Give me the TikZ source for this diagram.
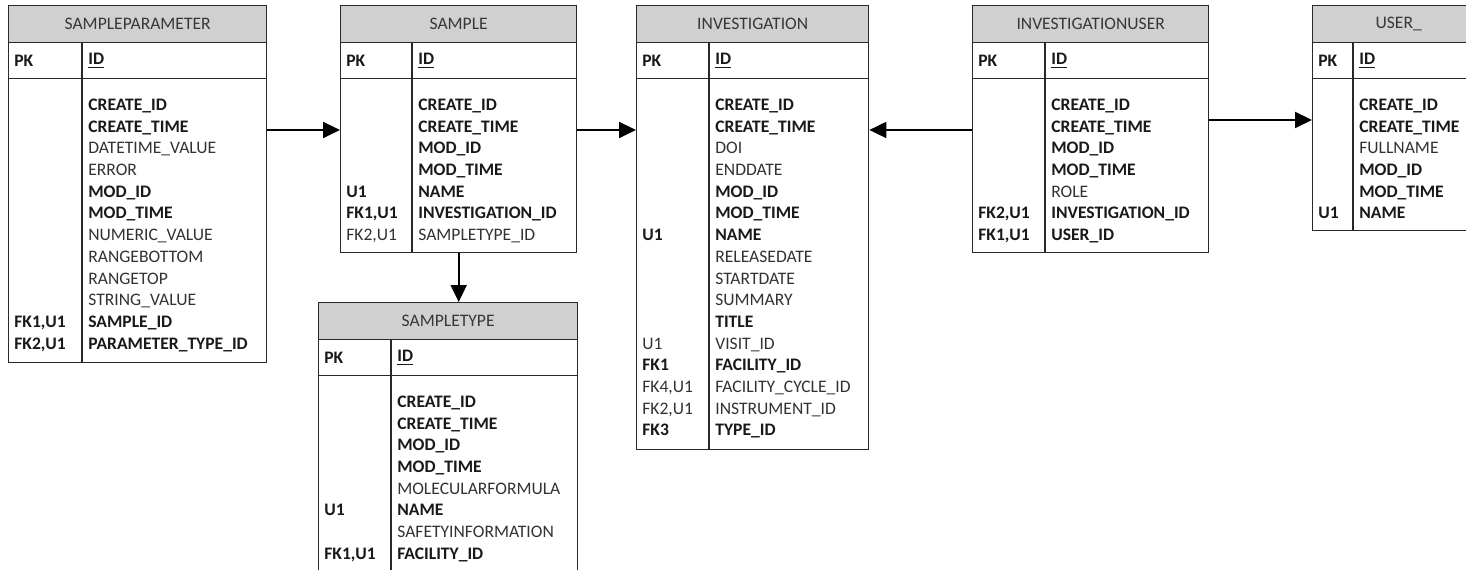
\documentclass[tikz,border=0pt]{standalone}
\usepackage{fontspec}
\setmainfont{Carlito}
\usetikzlibrary{arrows.meta,positioning}
\definecolor{headgray}{RGB}{208,208,208}
\definecolor{fldgray}{RGB}{50,50,50}
\definecolor{txtgray}{RGB}{55,55,55}
\definecolor{linegray}{RGB}{40,40,40}
\newcommand{\tabfont}{\fontsize{10}{12.35}\selectfont}
\newcommand{\bfld}[1]{\textbf{#1}}
\newcommand{\pfld}[1]{\textcolor{fldgray}{#1}}

\begin{document}
\begin{tikzpicture}[
  x=0.02cm, y=-0.02cm,
  tbl/.style={draw=linegray, line width=0.8pt, anchor=north west, inner sep=0pt},
  tblhead/.style={draw=linegray, line width=0.8pt, fill=headgray, anchor=north, minimum height=0.74cm, inner sep=0pt, font=\tabfont, text=txtgray},
  tblline/.style={draw=linegray, line width=0.8pt},
  keytxt/.style={anchor=west, inner sep=0pt, font=\tabfont\bfseries, text=black!90},
  fldlist/.style={anchor=north west, inner sep=0pt, align=left, font=\tabfont, text=black!90},
  fk/.style={line width=1.1pt, -{Triangle[length=0.34cm, width=0.32cm]}}
]
\useasboundingbox (0,0) rectangle (1466,569);
\clip (0,0) rectangle (1466,569);

% SAMPLEPARAMETER
\node[tbl, minimum width=5.16cm, minimum height=7.14cm] (sp) at (8,5) {};
\node[tblhead, minimum width=5.16cm] (sphead) at (sp.north) {SAMPLEPARAMETER};
\coordinate (spdiv) at ([xshift=1.48cm]sphead.south west);
\draw[tblline] ([yshift=-0.7cm]sphead.south west) -- ([yshift=-0.7cm]sphead.south east);
\draw[tblline] (spdiv) -- (spdiv |- sp.south);
\node[keytxt] (sppk) at ([xshift=0.12cm, yshift=-0.35cm]sphead.south west) {PK};
\node[keytxt] (spid) at ([xshift=0.12cm, yshift=-0.35cm]spdiv) {\underline{ID}};
\node[fldlist] (spkeys) at ([xshift=0.12cm, yshift=-1.03cm]sphead.south west)
  {\strut\\ \\ \\ \\ \\ \\ \\ \\ \\ \\\bfld{FK1,U1}\\\bfld{FK2,U1}};
\node[fldlist] (spfields) at ([xshift=0.12cm, yshift=-1.03cm]spdiv)
  {\strut\bfld{CREATE\_ID}\\\bfld{CREATE\_TIME}\\\pfld{DATETIME\_VALUE}\\\pfld{ERROR}\\
   \bfld{MOD\_ID}\\\bfld{MOD\_TIME}\\\pfld{NUMERIC\_VALUE}\\\pfld{RANGEBOTTOM}\\
   \pfld{RANGETOP}\\\pfld{STRING\_VALUE}\\\bfld{SAMPLE\_ID}\\\bfld{PARAMETER\_TYPE\_ID}};

% SAMPLE
\node[tbl, minimum width=4.72cm, minimum height=4.94cm] (sm) at (340,5) {};
\node[tblhead, minimum width=4.72cm] (smhead) at (sm.north) {SAMPLE};
\coordinate (smdiv) at ([xshift=1.44cm]smhead.south west);
\draw[tblline] ([yshift=-0.7cm]smhead.south west) -- ([yshift=-0.7cm]smhead.south east);
\draw[tblline] (smdiv) -- (smdiv |- sm.south);
\node[keytxt] (smpk) at ([xshift=0.12cm, yshift=-0.35cm]smhead.south west) {PK};
\node[keytxt] (smid) at ([xshift=0.12cm, yshift=-0.35cm]smdiv) {\underline{ID}};
\node[fldlist] (smkeys) at ([xshift=0.12cm, yshift=-1.03cm]smhead.south west)
  {\strut\\ \\ \\ \\\bfld{U1}\\\bfld{FK1,U1}\\\pfld{FK2,U1}};
\node[fldlist] (smfields) at ([xshift=0.12cm, yshift=-1.03cm]smdiv)
  {\strut\bfld{CREATE\_ID}\\\bfld{CREATE\_TIME}\\\bfld{MOD\_ID}\\\bfld{MOD\_TIME}\\
   \bfld{NAME}\\\bfld{INVESTIGATION\_ID}\\\pfld{SAMPLETYPE\_ID}};

% SAMPLETYPE
\node[tbl, minimum width=5.18cm, minimum height=5.4cm] (st) at (318,302) {};
\node[tblhead, minimum width=5.18cm] (sthead) at (st.north) {SAMPLETYPE};
\coordinate (stdiv) at ([xshift=1.46cm]sthead.south west);
\draw[tblline] ([yshift=-0.7cm]sthead.south west) -- ([yshift=-0.7cm]sthead.south east);
\draw[tblline] (stdiv) -- (stdiv |- st.south);
\node[keytxt] (stpk) at ([xshift=0.12cm, yshift=-0.35cm]sthead.south west) {PK};
\node[keytxt] (stid) at ([xshift=0.12cm, yshift=-0.35cm]stdiv) {\underline{ID}};
\node[fldlist] (stkeys) at ([xshift=0.12cm, yshift=-1.03cm]sthead.south west)
  {\strut\\ \\ \\ \\ \\\bfld{U1}\\ \\\bfld{FK1,U1}};
\node[fldlist] (stfields) at ([xshift=0.12cm, yshift=-1.03cm]stdiv)
  {\strut\bfld{CREATE\_ID}\\\bfld{CREATE\_TIME}\\\bfld{MOD\_ID}\\\bfld{MOD\_TIME}\\
   \pfld{MOLECULARFORMULA}\\\bfld{NAME}\\\pfld{SAFETYINFORMATION}\\\bfld{FACILITY\_ID}};

% INVESTIGATION
\node[tbl, minimum width=4.64cm, minimum height=8.88cm] (inv) at (636,5) {};
\node[tblhead, minimum width=4.64cm] (invhead) at (inv.north) {INVESTIGATION};
\coordinate (invdiv) at ([xshift=1.46cm]invhead.south west);
\draw[tblline] ([yshift=-0.7cm]invhead.south west) -- ([yshift=-0.7cm]invhead.south east);
\draw[tblline] (invdiv) -- (invdiv |- inv.south);
\node[keytxt] (invpk) at ([xshift=0.12cm, yshift=-0.35cm]invhead.south west) {PK};
\node[keytxt] (invid) at ([xshift=0.12cm, yshift=-0.35cm]invdiv) {\underline{ID}};
\node[fldlist] (invkeys) at ([xshift=0.12cm, yshift=-1.03cm]invhead.south west)
  {\strut\\ \\ \\ \\ \\ \\\bfld{U1}\\ \\ \\ \\ \\\pfld{U1}\\\bfld{FK1}\\\pfld{FK4,U1}\\\pfld{FK2,U1}\\\bfld{FK3}};
\node[fldlist] (invfields) at ([xshift=0.12cm, yshift=-1.03cm]invdiv)
  {\strut\bfld{CREATE\_ID}\\\bfld{CREATE\_TIME}\\\pfld{DOI}\\\pfld{ENDDATE}\\
   \bfld{MOD\_ID}\\\bfld{MOD\_TIME}\\\bfld{NAME}\\\pfld{RELEASEDATE}\\
   \pfld{STARTDATE}\\\pfld{SUMMARY}\\\bfld{TITLE}\\\pfld{VISIT\_ID}\\
   \bfld{FACILITY\_ID}\\\pfld{FACILITY\_CYCLE\_ID}\\\pfld{INSTRUMENT\_ID}\\\bfld{TYPE\_ID}};

% INVESTIGATIONUSER
\node[tbl, minimum width=4.72cm, minimum height=4.94cm] (iu) at (972,5) {};
\node[tblhead, minimum width=4.72cm] (iuhead) at (iu.north) {INVESTIGATIONUSER};
\coordinate (iudiv) at ([xshift=1.46cm]iuhead.south west);
\draw[tblline] ([yshift=-0.7cm]iuhead.south west) -- ([yshift=-0.7cm]iuhead.south east);
\draw[tblline] (iudiv) -- (iudiv |- iu.south);
\node[keytxt] (iupk) at ([xshift=0.12cm, yshift=-0.35cm]iuhead.south west) {PK};
\node[keytxt] (iuid) at ([xshift=0.12cm, yshift=-0.35cm]iudiv) {\underline{ID}};
\node[fldlist] (iukeys) at ([xshift=0.12cm, yshift=-1.03cm]iuhead.south west)
  {\strut\\ \\ \\ \\ \\\bfld{FK2,U1}\\\bfld{FK1,U1}};
\node[fldlist] (iufields) at ([xshift=0.12cm, yshift=-1.03cm]iudiv)
  {\strut\bfld{CREATE\_ID}\\\bfld{CREATE\_TIME}\\\bfld{MOD\_ID}\\\bfld{MOD\_TIME}\\
   \pfld{ROLE}\\\bfld{INVESTIGATION\_ID}\\\bfld{USER\_ID}};

% USER_
\node[tbl, minimum width=3.44cm, minimum height=4.5cm] (us) at (1312,5) {};
\node[tblhead, minimum width=3.44cm] (ushead) at (us.north) {USER\_};
\coordinate (usdiv) at ([xshift=0.82cm]ushead.south west);
\draw[tblline] ([yshift=-0.7cm]ushead.south west) -- ([yshift=-0.7cm]ushead.south east);
\draw[tblline] (usdiv) -- (usdiv |- us.south);
\node[keytxt] (uspk) at ([xshift=0.12cm, yshift=-0.35cm]ushead.south west) {PK};
\node[keytxt] (usid) at ([xshift=0.12cm, yshift=-0.35cm]usdiv) {\underline{ID}};
\node[fldlist] (uskeys) at ([xshift=0.12cm, yshift=-1.03cm]ushead.south west)
  {\strut\\ \\ \\ \\ \\\bfld{U1}};
\node[fldlist] (usfields) at ([xshift=0.12cm, yshift=-1.03cm]usdiv)
  {\strut\bfld{CREATE\_ID}\\\bfld{CREATE\_TIME}\\\pfld{FULLNAME}\\\bfld{MOD\_ID}\\
   \bfld{MOD\_TIME}\\\bfld{NAME}};

% Foreign keys
\draw[fk] ([yshift=-2.5cm]sp.north east) -- ([yshift=-2.5cm]sm.north west);
\draw[fk] ([yshift=-2.5cm]sm.north east) -- ([yshift=-2.5cm]inv.north west);
\draw[fk] ([yshift=-2.5cm]iu.north west) -- ([yshift=-2.5cm]inv.north east);
\draw[fk] ([yshift=-2.3cm]iu.north east) -- ([yshift=-2.3cm]us.north west);
\draw[fk] (sm.south) -- (sm.south |- st.north);

\end{tikzpicture}
\end{document}
